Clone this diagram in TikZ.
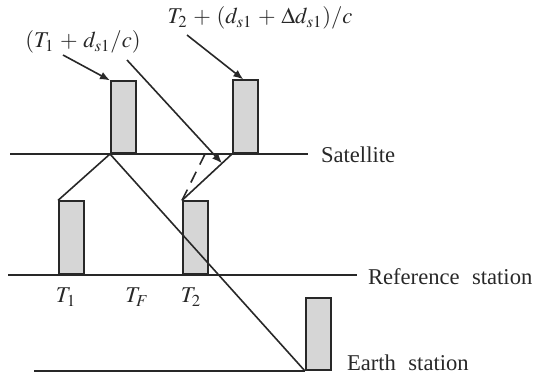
\documentclass[tikz,border=0pt]{standalone}
\usepackage{mathptmx}
\usepackage{fontspec}
\setmainfont{Liberation Serif}
\usepackage{tikz}
\usetikzlibrary{arrows.meta, positioning, calc}
\definecolor{pulsegray}{RGB}{214,214,214}
\definecolor{inkgray}{RGB}{40,40,40}

\begin{document}
\begin{tikzpicture}[
    x=0.5pt, y=-0.5pt,
    font=\fontsize{11.3}{13.5}\selectfont,
    every node/.style={text=inkgray},
    pulse/.style={rectangle, draw=inkgray, fill=pulsegray, line width=0.8pt, inner sep=0pt, minimum width=12.5pt, anchor=south west},
    levelline/.style={draw=inkgray, line width=0.8pt},
    pointer/.style={-{Latex[length=5pt,width=4pt]}, draw=inkgray, line width=0.8pt}
]
\useasboundingbox (0,0) rectangle (536,377);

% pulses
\node[pulse, minimum height=36pt] (sp1) at (110,154) {};
\node[pulse, minimum height=36.5pt] (sp2) at (232,154) {};
\node[pulse, minimum height=36.5pt] (rp1) at (58,275) {};
\node[pulse, minimum height=36.5pt] (rp2) at (182,275) {};
\node[pulse, minimum height=36pt] (ep) at (305,371) {};

% level lines
\coordinate (satL) at (10,154);
\coordinate (satR) at (308,154);
\coordinate (refL) at (8,275);
\coordinate (refR) at (357,275);
\coordinate (earL) at (34,371);
\draw[levelline] (satL) -- (satR);
\draw[levelline] (refL) -- (refR);
\draw[levelline] (earL) -- (ep.south west);

\node[anchor=west] (sat) at (314,155) {Satellite};
\node[anchor=west] (ref) at (361,277) {Reference\hspace{0.55em}station};
\node[anchor=west] (ear) at (340,363) {Earth\hspace{0.55em}station};

% times
\node (t1) at (66,297) {$T_1$};
\node (tf) at (137,297) {$T_F$};
\node (t2) at (191,297) {$T_2$};

% signal paths
\coordinate (ghost) at (205,154);
\draw[levelline] (rp1.north west) -- (sp1.south west) -- (ep.south west);
\draw[levelline] (rp2.north west) -- (sp2.south west);
\draw[levelline, dashed, dash pattern=on 6pt off 4pt] (rp2.north west) -- (ghost);

% labels
\node (lbl1) at (83,42) {$(T_1\,+\,d_{s1}/c)$};
\node (lbl2) at (260,18) {$T_2\,+\,(d_{s1}\,+\,\Delta d_{s1})/c$};
\coordinate (a1) at (63,55);
\coordinate (a2) at (127,60);
\coordinate (a3) at (187,35);
\draw[pointer] (a1) -- (sp1.north west);
\draw[pointer] (a2) -- ($(rp2.north west)!0.8!(sp2.south west)$);
\draw[pointer] (a3) -- ([xshift=-1pt]sp2.north);
\end{tikzpicture}
\end{document}
